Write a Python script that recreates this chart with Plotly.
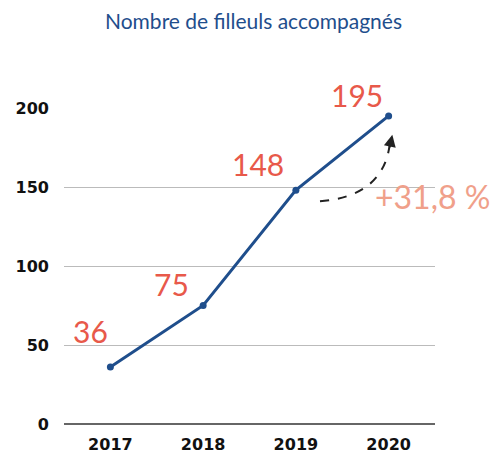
import plotly.graph_objects as go

years = ["2017", "2018", "2019", "2020"]
filleuls = [36, 75, 148, 195]
value_labels = ["36", "75", "148", "195"]
growth_label = "+31,8 %"
y_ticks = [0, 50, 100, 150, 200]

blue = "#1F4E8C"
red = "#E8594A"

# pixel offsets of the hand-placed value labels
label_shift = [(-20, 36), (-32, 22), (-38, 26), (-32, 21)]

fig = go.Figure()
fig.add_trace(go.Scatter(
    x=years, y=filleuls, mode="lines+markers",
    line=dict(color=blue, width=3),
    marker=dict(color=blue, size=7),
    cliponaxis=False,
))

for i, (v, txt) in enumerate(zip(filleuls, value_labels)):
    dx, dy = label_shift[i]
    fig.add_annotation(x=i, y=v, text=txt, showarrow=False,
                       xshift=dx, yshift=dy,
                       font=dict(family="Lato", size=30, color=red))

# growth annotation
fig.add_annotation(xref="paper", yref="paper", x=1.0, y=0.72, text=growth_label,
                   showarrow=False, xanchor="right", yanchor="middle", xshift=57,
                   font=dict(family="Lato", size=32, color="#F0A08A"))

# dashed curved arrow
fig.add_shape(type="path", xref="paper", yref="paper",
              path="M 0.69 0.705 Q 0.86 0.72 0.878 0.885",
              line=dict(color="#222222", width=2, dash="dash"))
fig.add_annotation(xref="paper", yref="paper", x=0.885, y=0.915, text="",
                   showarrow=True, arrowhead=2, arrowsize=1.2, arrowwidth=2,
                   arrowcolor="#222222", ax=-3, ay=14)

fig.update_layout(
    width=491, height=446,
    margin=dict(l=56, r=64, t=100, b=30),
    paper_bgcolor="white", plot_bgcolor="white",
    showlegend=False,
    title=dict(text="Nombre de filleuls accompagnés", x=0.5, xanchor="center",
               y=0.969, yanchor="middle",
               font=dict(family="Lato", size=21, color=blue)),
)
fig.update_xaxes(type="category", range=[-0.5, 3.5], showgrid=False,
                 showline=False, ticks="", ticklabelstandoff=9, automargin=False,
                 tickfont=dict(family="DejaVu Sans", size=16, color="#111111", weight="bold"))
fig.update_yaxes(range=[0, 200], tickvals=y_ticks, showgrid=True,
                 gridcolor="#BBBBBB", gridwidth=1,
                 zeroline=True, zerolinecolor="#666666", zerolinewidth=1.5,
                 ticks="", ticklabelstandoff=14, automargin=False,
                 tickfont=dict(family="DejaVu Sans", size=16, color="#111111", weight="bold"))

fig.write_html("out.html")
